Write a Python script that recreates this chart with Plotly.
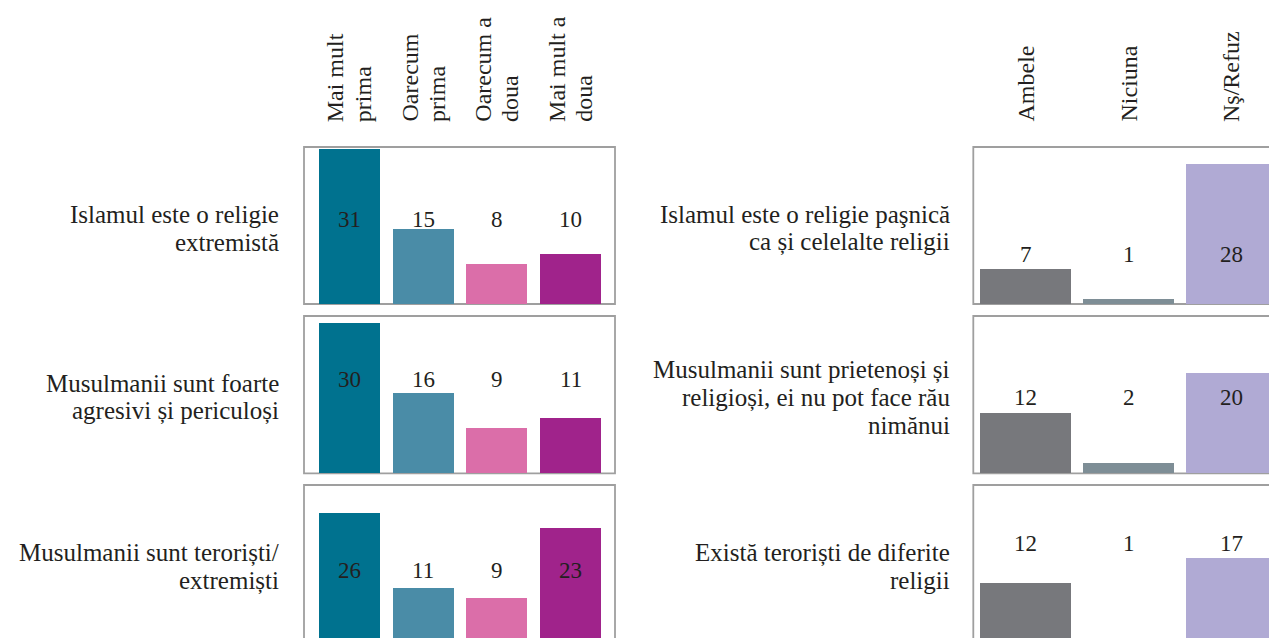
import plotly.graph_objects as go

W, H = 1269, 638

# ---- data -------------------------------------------------------------
left_categories = ["Mai mult\nprima", "Oarecum\nprima", "Oarecum a\ndoua", "Mai mult a\ndoua"]
right_categories = ["Ambele", "Niciuna", "Nş/Refuz"]

left_statements = [
    "Islamul este o religie\nextremistă",
    "Musulmanii sunt foarte\nagresivi și periculoși",
    "Musulmanii sunt teroriști/\nextremiști",
]
right_statements = [
    "Islamul este o religie paşnică\nca și celelalte religii",
    "Musulmanii sunt prietenoși și\nreligioși, ei nu pot face rău\nnimănui",
    "Există teroriști de diferite\nreligii",
]

left_values = [
    [31, 15, 8, 10],
    [30, 16, 9, 11],
    [26, 11, 9, 23],
]
right_values = [
    [7, 1, 28],
    [12, 2, 20],
    [12, 1, 17],
]

# ---- styling / layout constants --------------------------------------
left_colors = ["#00728f", "#4a8ca7", "#db6ea9", "#a0238b"]
right_colors = ["#77787c", "#7e8e96", "#b0aad4"]
TEXT = "#231f20"
BORDER = "#9f9f9f"
FONT = "'Liberation Serif', 'Times New Roman', Tinos, 'DejaVu Serif', serif"

# vertical extent of each row of panels (pixels from top)
rows_px = [(147, 304), (316, 473.3), (485, 643)]
PX_PER_UNIT = 5.0

# horizontal geometry of the two panel columns (pixels)
left_box = dict(x0=304, x1=615, c0=349.5, step=73.7, width=0.83)
right_box = dict(x0=973.3, x1=1284.3, c0=1025.5, step=103.0, width=0.88)

# height (in value units) at which the numbers are written in each panel
left_label_y = [17.0, 18.7, 14.6]
right_label_y = [10.0, 15.1, 20.0]

LINE_GAP = 27.4
HEADER_BASE_PX = 123


def y_geometry(top, bottom):
    vis_bottom = min(bottom, H)
    domain = [1 - vis_bottom / H, 1 - top / H]
    rng = [(bottom - vis_bottom) / PX_PER_UNIT, (bottom - top) / PX_PER_UNIT]
    return domain, rng


def x_geometry(box):
    vis_right = min(box["x1"], W)
    domain = [box["x0"] / W, vis_right / W]
    rng = [(box["x0"] - box["c0"]) / box["step"], (vis_right - box["c0"]) / box["step"]]
    return domain, rng


fig = go.Figure()
annotations = []
shapes = []

panels = []
for r in range(3):
    panels.append(("left", r, left_values[r], left_colors, left_box, left_label_y[r], left_statements[r]))
    panels.append(("right", r, right_values[r], right_colors, right_box, right_label_y[r], right_statements[r]))

for idx, (side, r, vals, cols, box, label_y, statement) in enumerate(panels, start=1):
    xa = "x" if idx == 1 else f"x{idx}"
    ya = "y" if idx == 1 else f"y{idx}"
    xd, xr = x_geometry(box)
    top, bottom = rows_px[r]
    yd, yr = y_geometry(top, bottom)

    fig.add_trace(go.Bar(
        x=list(range(len(vals))),
        y=vals,
        width=box["width"],
        marker=dict(color=cols, line=dict(width=0)),
        xaxis=xa, yaxis=ya,
        showlegend=False, hoverinfo="skip",
    ))

    axis_common = dict(visible=False, showgrid=False, zeroline=False, fixedrange=True)
    fig.update_layout(**{
        ("xaxis" if idx == 1 else f"xaxis{idx}"): dict(domain=xd, range=xr, anchor=ya, **axis_common),
        ("yaxis" if idx == 1 else f"yaxis{idx}"): dict(domain=yd, range=yr, anchor=xa, **axis_common),
    })

    # panel frame
    shapes.append(dict(
        type="rect", xref="paper", yref="paper",
        x0=box["x0"] / W, x1=box["x1"] / W,
        y0=1 - bottom / H, y1=1 - top / H,
        line=dict(color=BORDER, width=1.8), fillcolor="rgba(0,0,0,0)", layer="below",
    ))

    # value labels
    for i, v in enumerate(vals):
        annotations.append(dict(
            xref=xa, yref=ya, x=i, y=label_y, text=str(v),
            showarrow=False, xanchor="center", yanchor="middle", borderpad=0,
            font=dict(family=FONT, size=23, color=TEXT),
        ))

    # statement text, right aligned to the left of the panel
    lines = statement.split("\n")
    center = (top + bottom) / 2 + 3
    right_edge = 280 if side == "left" else 951
    for k, line in enumerate(lines):
        ypx = center + (k - (len(lines) - 1) / 2) * LINE_GAP
        annotations.append(dict(
            xref="paper", yref="paper", x=right_edge / W, y=1 - ypx / H,
            text=line, showarrow=False, xanchor="right", yanchor="middle", borderpad=0,
            font=dict(family=FONT, size=25, color=TEXT),
        ))

    # column headers above the first row
    if r == 0:
        cats = left_categories if side == "left" else right_categories
        for i, cat in enumerate(cats):
            parts = cat.split("\n")
            for k, part in enumerate(parts):
                annotations.append(dict(
                    xref=xa, yref="paper", x=i, y=1 - HEADER_BASE_PX / H,
                    xshift=(k - (len(parts) - 1) / 2) * LINE_GAP,
                    text=part, textangle=-90, showarrow=False,
                    xanchor="center", yanchor="bottom", borderpad=0,
                    font=dict(family=FONT, size=24, color=TEXT),
                ))

fig.update_layout(
    width=W, height=H,
    margin=dict(l=0, r=0, t=0, b=0),
    paper_bgcolor="white",
    plot_bgcolor="rgba(0,0,0,0)",
    annotations=annotations,
    shapes=shapes,
    bargap=0,
)

fig.write_html("out.html")
